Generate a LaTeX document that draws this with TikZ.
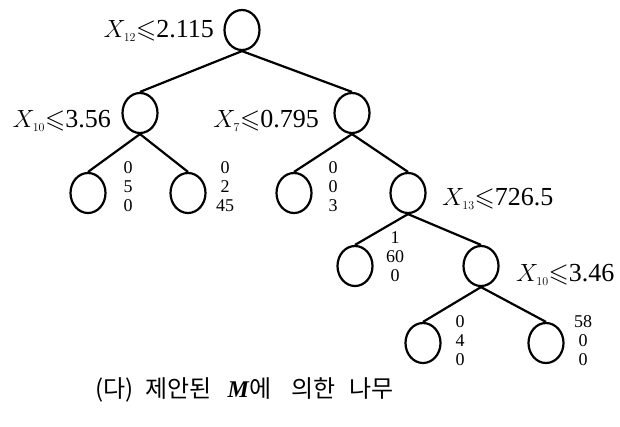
\documentclass[tikz,border=0pt]{standalone}
\usepackage{amssymb}
\usepackage{fontspec}
\setmainfont{Liberation Serif}
\newfontfamily\krfont{Noto Sans CJK KR}
\usetikzlibrary{shapes.geometric}
\begin{document}
\begin{tikzpicture}[x=1pt,y=-1pt,
  tn/.style={ellipse,draw,line width=2.2pt,minimum width=35pt,minimum height=40pt,inner sep=0pt},
  edge/.style={line width=2.2pt},
  split/.style={font=\fontsize{26}{28}\selectfont,inner sep=0pt},
  counts/.style={font=\fontsize{18}{19}\selectfont,align=center,inner sep=0pt}]
\useasboundingbox (0,0) rectangle (620,426);
% nodes
\node[tn] (r) at (242,30) {};
\node[tn] (a) at (140,113) {};
\node[tn] (b) at (352,113) {};
\node[tn] (a1) at (88,193) {};
\node[tn] (a2) at (188,193) {};
\node[tn] (b1) at (294,193) {};
\node[tn] (b2) at (408,193) {};
\node[tn] (c1) at (355,266) {};
\node[tn] (c2) at (481,266) {};
\node[tn] (d1) at (423,343) {};
\node[tn] (d2) at (546,343) {};
% edges
\draw[edge] (r.south) -- (a.north);
\draw[edge] (r.south) -- (b.north);
\draw[edge] (a.south) -- (a1.north);
\draw[edge] (a.south) -- (a2.north);
\draw[edge] (b.south) -- (b1.north);
\draw[edge] (b.south) -- (b2.north);
\draw[edge] (b2.south) -- (c1.north);
\draw[edge] (b2.south) -- (c2.north);
\draw[edge] (c2.south) -- (d1.north);
\draw[edge] (c2.south) -- (d2.north);
% split labels
\node[split,anchor=east] (lr) at (214,31) {$X_{\scriptscriptstyle 12}{\leqslant}$2.115};
\node[split,anchor=east] (la) at (111,121) {$X_{\scriptscriptstyle 10}{\leqslant}$3.56};
\node[split,anchor=east] (lb) at (319,121) {$X_{\scriptscriptstyle 7}{\leqslant}$0.795};
\node[split,anchor=west] (lb2) at (442,199) {$X_{\scriptscriptstyle 13}{\leqslant}$726.5};
\node[split,anchor=west] (lc2) at (516,275) {$X_{\scriptscriptstyle 10}{\leqslant}$3.46};
% counts
\node[counts] (na1) at (128,187) {0\\5\\0};
\node[counts] (na2) at (225,187) {0\\2\\45};
\node[counts] (nb1) at (333,187) {0\\0\\3};
\node[counts] (nc1) at (395,257) {1\\60\\0};
\node[counts] (nd1) at (460,341) {0\\4\\0};
\node[counts] (nd2) at (583,341) {58\\0\\0};
% caption
\node[anchor=west,inner sep=0pt,font=\fontsize{24}{26}\selectfont] (cap) at (95,390)
  {\krfont (다)\hspace{12pt}제안된\hspace{16pt}\rmfamily\bfseries\itshape M\mdseries\upshape\krfont 에\hspace{20pt}의한\hspace{14pt}나무};
\end{tikzpicture}
\end{document}
